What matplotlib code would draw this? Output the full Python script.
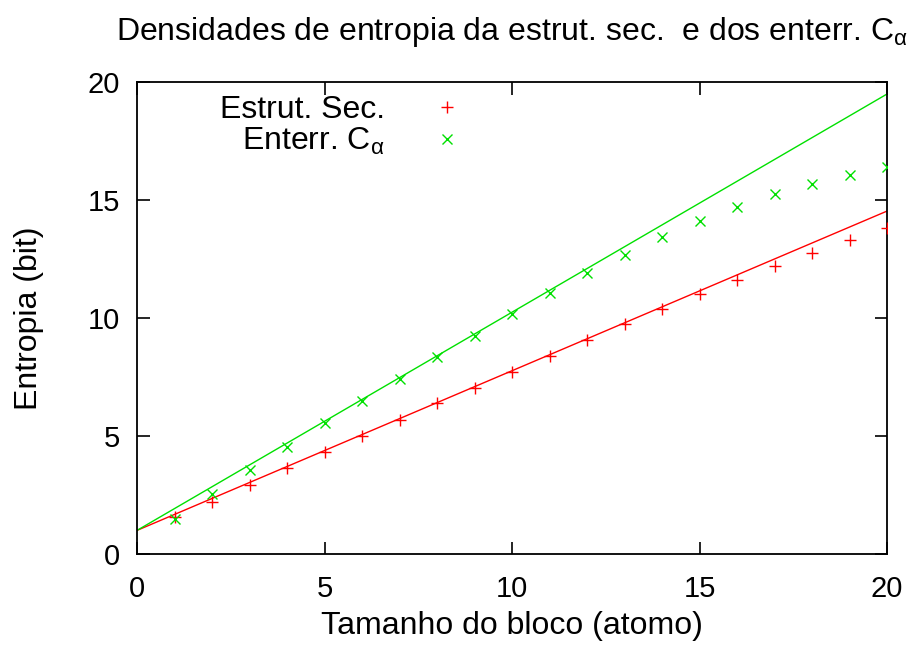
import matplotlib
matplotlib.use("Agg")
import matplotlib.pyplot as plt

plt.rcParams['font.family'] = ['Liberation Sans', 'DejaVu Sans']
plt.rcParams['mathtext.fontset'] = 'custom'
plt.rcParams['mathtext.rm'] = 'Liberation Sans'
plt.rcParams['mathtext.it'] = 'Liberation Sans'
plt.rcParams['mathtext.bf'] = 'Liberation Sans:bold'

# Block sizes and measured entropies
block_size = [1, 2, 3, 4, 5, 6, 7, 8, 9, 10, 11, 12, 13, 14, 15, 16, 17, 18, 19, 20]
estrut_sec = [1.55, 2.22, 2.92, 3.63, 4.32, 4.99, 5.68, 6.38, 7.05, 7.73,
              8.40, 9.08, 9.73, 10.37, 11.0, 11.6, 12.19, 12.77, 13.32, 13.83]
enterr_ca = [1.48, 2.54, 3.56, 4.55, 5.54, 6.48, 7.40, 8.33, 9.24, 10.17,
             11.05, 11.89, 12.68, 13.43, 14.11, 14.7, 15.24, 15.69, 16.06, 16.39]

# Linear fits (endpoints)
fit_x = [0, 20]
fit_estrut = [1.0, 14.53]
fit_enterr = [1.0, 19.49]

xticks = [0, 5, 10, 15, 20]
yticks = [0, 5, 10, 15, 20]

RED = '#ff0000'
GREEN = '#00e000'

fig = plt.figure(figsize=(9.14, 6.54), dpi=100)
ax = fig.add_axes([137/914, 1 - 554/654, 750/914, 472/654])

ax.plot(fit_x, fit_estrut, color=RED, lw=1.0, zorder=2)
ax.plot(fit_x, fit_enterr, color=GREEN, lw=1.0, zorder=2)
ax.plot(block_size, estrut_sec, ls='none', marker='+', ms=8, mew=1.0,
        color=RED, label='Estrut. Sec.', zorder=3)
ax.plot(block_size, enterr_ca, ls='none', marker='x', ms=7, mew=1.0,
        color=GREEN, label=r'Enterr. C$_\alpha$', zorder=3)

ax.set_xlim(0, 20)
ax.set_ylim(0, 20)
ax.set_xticks(xticks)
ax.set_yticks(yticks)
ax.tick_params(direction='in', length=9, width=1.2, top=True, right=True,
               labelsize=21, colors='black')
ax.tick_params(axis='x', pad=15)
ax.tick_params(axis='y', pad=12)
for s in ax.spines.values():
    s.set_linewidth(1.3)

ax.set_xlabel('Tamanho do bloco (atomo)', fontsize=23, labelpad=6)
ax.set_ylabel('Entropia (bit)', fontsize=23, labelpad=32)
ax.set_title(r'Densidades de entropia da estrut. sec.  e dos enterr. C$_\alpha$',
             fontsize=23, pad=30)

leg = ax.legend(loc='upper left', bbox_to_anchor=(0.093, 1.0), markerfirst=False,
                frameon=False, fontsize=23, handlelength=1.0, handletextpad=1.45,
                labelspacing=0.05, borderaxespad=0.0)

fig.savefig('out.png', dpi=100)
